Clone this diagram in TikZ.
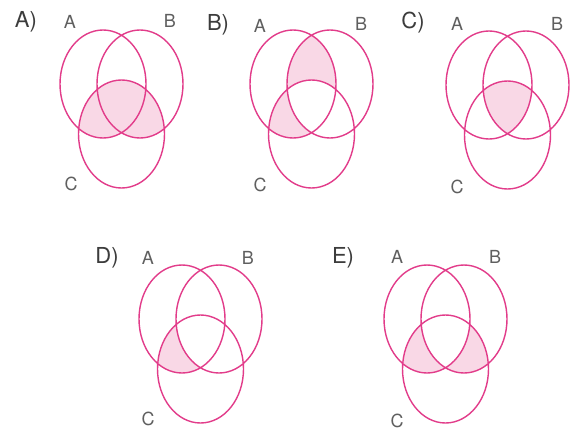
\documentclass[tikz,border=0pt]{standalone}
\usepackage{fontspec}
\setmainfont{TeX Gyre Heros}
\definecolor{vline}{RGB}{226,60,138}
\definecolor{vfill}{RGB}{249,216,230}
\definecolor{vtext}{RGB}{95,95,95}
\definecolor{vtag}{RGB}{60,60,60}
\begin{document}
\begin{tikzpicture}[x=1pt,y=-1pt,
  outline/.style={draw=vline,line width=1.4pt},
  tag/.style={text=vtag,font=\fontsize{22}{22}\selectfont,inner sep=0pt},
  setlabel/.style={text=vtext,font=\fontsize{18}{18}\selectfont,inner sep=0pt}]
\useasboundingbox (0,0) rectangle (576,431);
\fill[white] (0,0) rectangle (576,431);
\def\pA{(0,0) ellipse [x radius=43,y radius=54]}
\def\pB{(37,0) ellipse [x radius=43,y radius=54]}
\def\pC{(18.5,50) ellipse [x radius=43,y radius=54]}
\def\pR{(-120,-120) rectangle (200,200)}
% ---- A)
\begin{scope}[shift={(103,84)}]
  \begin{scope}\clip \pC; \fill[vfill] \pA \pB; \end{scope}
  \draw[outline] \pA \pB \pC;
  \node[tag] (tagA) at (-77,-62) {A)};
  \node[setlabel] (a1) at (-33,-62) {A};
  \node[setlabel] (b1) at (67,-63) {B};
  \node[setlabel] (c1) at (-32,100) {C};
\end{scope}
% ---- B)
\begin{scope}[shift={(293,84)}]
  \begin{scope}\clip \pA; \clip \pB; \fill[vfill,even odd rule] \pR \pC; \end{scope}
  \begin{scope}\clip \pA; \clip \pC; \fill[vfill,even odd rule] \pR \pB; \end{scope}
  \draw[outline] \pA \pB \pC;
  \node[tag] (tagB) at (-75,-59) {B)};
  \node[setlabel] (a2) at (-33,-58) {A};
  \node[setlabel] (b2) at (68,-60) {B};
  \node[setlabel] (c2) at (-33,101) {C};
\end{scope}
% ---- C)
\begin{scope}[shift={(489,85)}]
  \begin{scope}\clip \pA; \clip \pB; \fill[vfill] \pC; \end{scope}
  \draw[outline] \pA \pB \pC;
  \node[tag] (tagC) at (-76,-62) {C)};
  \node[setlabel] (a3) at (-32,-61) {A};
  \node[setlabel] (b3) at (68,-61) {B};
  \node[setlabel] (c3) at (-32,102) {C};
\end{scope}
% ---- D)
\begin{scope}[shift={(182,319)}]
  \begin{scope}\clip \pA; \clip \pC; \fill[vfill,even odd rule] \pR \pB; \end{scope}
  \draw[outline] \pA \pB \pC;
  \node[tag] (tagD) at (-75,-61) {D)};
  \node[setlabel] (a4) at (-34,-61) {A};
  \node[setlabel] (b4) at (66,-61) {B};
  \node[setlabel] (c4) at (-34,100) {C};
\end{scope}
% ---- E)
\begin{scope}[shift={(427,319)}]
  \begin{scope}\clip \pA; \clip \pC; \fill[vfill,even odd rule] \pR \pB; \end{scope}
  \begin{scope}\clip \pB; \clip \pC; \fill[vfill,even odd rule] \pR \pA; \end{scope}
  \draw[outline] \pA \pB \pC;
  \node[tag] (tagE) at (-84,-61) {E)};
  \node[setlabel] (a5) at (-30,-62) {A};
  \node[setlabel] (b5) at (68,-62) {B};
  \node[setlabel] (c5) at (-30,102) {C};
\end{scope}
\end{tikzpicture}
\end{document}
